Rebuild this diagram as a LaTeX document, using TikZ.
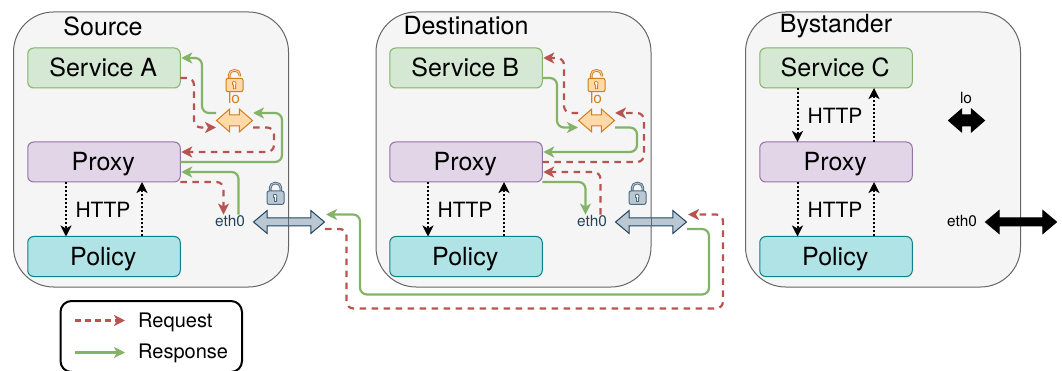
\documentclass[tikz,border=0pt]{standalone}
\usepackage{fontspec}
\setmainfont{TeX Gyre Heros}
\usetikzlibrary{arrows.meta,calc,shapes.arrows}
\definecolor{hostfill}{HTML}{F5F5F5}
\definecolor{hostline}{HTML}{666666}
\definecolor{svcfill}{HTML}{D5E8D4}
\definecolor{svcline}{HTML}{82B366}
\definecolor{prxfill}{HTML}{E1D5E7}
\definecolor{prxline}{HTML}{9673A6}
\definecolor{polfill}{HTML}{B0E3E6}
\definecolor{polline}{HTML}{0E8088}
\definecolor{reqcol}{HTML}{B85450}
\definecolor{respcol}{HTML}{82B366}
\definecolor{lofill}{HTML}{FFD9A8}
\definecolor{loline}{HTML}{D08020}
\definecolor{ethfill}{HTML}{BAC8D3}
\definecolor{ethline}{HTML}{23445D}
\definecolor{ethsoft}{HTML}{4F6B82}
\tikzset{
  x=1pt,y=-1pt,
  host/.style={draw=hostline,fill=hostfill,line width=1pt,rounded corners=40pt},
  compbox/.style={rounded corners=6pt,line width=1pt,minimum width=152.5pt,minimum height=40pt,inner sep=0pt,outer sep=0pt,text height=20pt,text depth=2.6pt,font=\fontsize{25}{30}\selectfont,execute at begin node=\hspace*{-1.5pt}},
  svcbox/.style={compbox,draw=svcline,fill=svcfill},
  prxbox/.style={compbox,draw=prxline,fill=prxfill},
  polbox/.style={compbox,draw=polline,fill=polfill},
  title/.style={font=\fontsize{25}{30}\selectfont,inner sep=0pt},
  httplabel/.style={font=\fontsize{21}{25}\selectfont,inner sep=0pt},
  smalllabel/.style={font=\fontsize{15.4}{18}\selectfont,inner sep=0pt},
  leglabel/.style={font=\fontsize{20}{24}\selectfont,inner sep=0pt,anchor=west},
  req/.style={draw=reqcol,line width=2.2pt,dash pattern=on 6.5pt off 5.5pt,rounded corners=7pt,-{Stealth[length=11pt,width=11pt,inset=3pt]},reqcol},
  resp/.style={draw=respcol,line width=2.2pt,rounded corners=7pt,-{Stealth[length=11pt,width=11pt,inset=3pt]},respcol},
  dotline/.style={draw=black,line width=2pt,dash pattern=on 2pt off 2pt,-{Stealth[length=11pt,width=11pt,inset=3pt]},black},
  lolink/.style={double arrow,line width=1pt,minimum height=36pt,minimum width=22pt,inner sep=5pt,text width=0pt,text height=0pt,text depth=0pt,double arrow head extend=6pt,double arrow tip angle=82,outer sep=0pt},
  ethlink/.style={double arrow,line width=1pt,minimum height=71pt,minimum width=22pt,inner sep=3.5pt,text width=0pt,text height=0pt,text depth=0pt,double arrow head extend=7.5pt,double arrow tip angle=80,outer sep=0pt},
  pics/padlock/.style n args={3}{code={
    \draw[#1,line width=2.6pt,line cap=butt] (3.2,10) -- (3.2,5.5) arc[start angle=180,end angle=0,x radius=5.3pt,y radius=4.5pt] -- (13.8,#3);
    \draw[#2,line width=.8pt] (3.2,10) -- (3.2,5.5) arc[start angle=180,end angle=0,x radius=5.3pt,y radius=4.5pt] -- (13.8,#3);
    \draw[#1,line width=1pt,fill=#2,rounded corners=2pt] (0,9) rectangle (17,22.4);
    \draw[#1,line width=.8pt,fill=white] (7.4,15.5) -- (7.4,19.5) -- (9.6,19.5) -- (9.6,15.5) arc[start angle=-40,end angle=220,radius=2pt] -- cycle;
  }}
}
\begin{document}
\begin{tikzpicture}
\useasboundingbox (0,0) rectangle (1062,371);
% hosts
\draw[host] (13.5,12) rectangle (288.5,287);
\draw[host] (376,12) rectangle (651,287);
\draw[host] (745.5,12) rectangle (1020.5,287);
\node[title] (tsrc) at (103,26) {Source};
\node[title] (tdst) at (466,26) {Destination};
\node[title] (tbys) at (836,26) {Bystander};
% boxes
\node[svcbox] (svcA) at (104,68) {Service A};
\node[prxbox] (prxA) at (104,162) {Proxy};
\node[polbox] (polA) at (104,256.5) {Policy};
\node[svcbox] (svcB) at (466,68) {Service B};
\node[prxbox] (prxB) at (466,162) {Proxy};
\node[polbox] (polB) at (466,256.5) {Policy};
\node[svcbox] (svcC) at (836,68) {Service C};
\node[prxbox] (prxC) at (836,162) {Proxy};
\node[polbox] (polC) at (836,256.5) {Policy};
% interfaces
\node[lolink,draw=loline,fill=lofill] (loA) at (234.5,120.5) {};
\node[lolink,draw=loline,fill=lofill] (loB) at (596.5,120.5) {};
\node[lolink,draw=black,fill=black] (loC) at (966.5,120.5) {};
\node[ethlink,draw=ethline,fill=ethfill] (ethA) at (289,222) {};
\node[ethlink,draw=ethline,fill=ethfill] (ethB) at (651,222) {};
\node[ethlink,draw=black,fill=black] (ethC) at (1021,222) {};
\draw[hostline,line width=1pt] (288.5,218) -- (288.5,226);
\draw[hostline,line width=1pt] (651,218) -- (651,226);
\node[smalllabel,text=loline] (lblA) at (234,98) {lo};
\node[smalllabel,text=loline] (lblB) at (596,98) {lo};
\node[smalllabel] (lblC) at (966,98) {lo};
\node[smalllabel,text=ethline] (etA) at (230,221.5) {eth0};
\node[smalllabel,text=ethline] (etB) at (592,221.5) {eth0};
\node[smalllabel] (etC) at (962,221.5) {eth0};
% locks
\pic at (226,69.3) {padlock={loline}{lofill}{7}};
\pic at (588,69.3) {padlock={loline}{lofill}{7}};
\pic at (267,182) {padlock={ethsoft}{ethfill}{10}};
\pic at (629,182) {padlock={ethsoft}{ethfill}{10}};
% HTTP
\node[httplabel] (h1) at (103,210) {HTTP};
\node[httplabel] (h2) at (465,210) {HTTP};
\node[httplabel] (h3) at (835,116) {HTTP};
\node[httplabel] (h4) at (835,210) {HTTP};
\draw[dotline] ($(prxA.south)+(-38,0)$) -- ($(polA.north)+(-38,0)$);
\draw[dotline] ($(polA.north)+(38,0)$) -- ($(prxA.south)+(38,0)$);
\draw[dotline] ($(prxB.south)+(-38,0)$) -- ($(polB.north)+(-38,0)$);
\draw[dotline] ($(polB.north)+(38,0)$) -- ($(prxB.south)+(38,0)$);
\draw[dotline] ($(svcC.south)+(-38.5,0)$) -- ($(prxC.north)+(-38.5,0)$);
\draw[dotline] ($(prxC.north)+(38,0)$) -- ($(svcC.south)+(38,0)$);
\draw[dotline] ($(prxC.south)+(-38.5,0)$) -- ($(polC.north)+(-38.5,0)$);
\draw[dotline] ($(polC.north)+(38,0)$) -- ($(prxC.south)+(38,0)$);
% source flows
\coordinate (loAnw) at ($(loA.center)+(-18.5,-7.5)$);
\coordinate (loAsw) at ($(loA.center)+(-18.5,7)$);
\coordinate (loAne) at ($(loA.center)+(18.5,-7.5)$);
\coordinate (loAse) at ($(loA.center)+(18.5,7)$);
\draw[resp] (loAnw) -| (202,58) -- ($(svcA.east)+(1,-10)$);
\draw[req] ($(svcA.east)+(0,10)$) -| (194,127.5) -- (loAsw);
\draw[req] (loAse) -| (274,152) -- ($(prxA.east)+(1,-10)$);
\draw[resp] ($(prxA.east)+(0,0)$) -| (282,113) -- (loAne);
\draw[resp] ($(etA.north)+(8.5,-1)$) |- ($(prxA.east)+(1,10)$);
\draw[req] ($(prxA.south east)+(0,0)$) -| ($(etA.north)+(-6.5,-1)$);
% destination flows
\coordinate (loBnw) at ($(loB.center)+(-18.5,-7.5)$);
\coordinate (loBsw) at ($(loB.center)+(-18.5,7)$);
\coordinate (loBne) at ($(loB.center)+(18.5,-7.5)$);
\coordinate (loBse) at ($(loB.center)+(18.5,7)$);
\draw[req] (loBnw) -| (564,58) -- ($(svcB.east)+(1,-10)$);
\draw[resp] ($(svcB.east)+(0,10)$) -| (557,127.5) -- (loBsw);
\draw[resp] (loBse) -| (637,152) -- ($(prxB.east)+(1,-10)$);
\draw[req] ($(prxB.east)+(0,0)$) -| (644,113) -- (loBne);
\draw[req] ($(etB.north)+(8.5,-1)$) |- ($(prxB.east)+(1,10)$);
\draw[resp] ($(prxB.south east)+(0,0)$) -| ($(etB.north)+(-6.5,-1)$);
% between hosts
\coordinate (ethAne) at ($(ethA.center)+(37,-7.5)$);
\coordinate (ethAse) at ($(ethA.center)+(36,7)$);
\coordinate (ethBne) at ($(ethB.center)+(37,-7.5)$);
\coordinate (ethBse) at ($(ethB.center)+(36,7)$);
\draw[resp] (ethBse) -| (709,294.5) -| (360,214.5) -- (ethAne);
\draw[req] (ethAse) -| (346.5,308.5) -| (723,214.5) -- (ethBne);
% legend
\draw[line width=2pt,rounded corners=11pt] (60.5,301) rectangle (242,372);
\coordinate (la) at (75,320.5);
\coordinate (lb) at (125,320.5);
\coordinate (lc) at (75,352.5);
\coordinate (ld) at (125,352.5);
\draw[req,dash pattern=on 6pt off 4pt] (la) -- (lb);
\draw[resp] (lc) -- (ld);
\node[leglabel] (lreq) at (138,322) {Request};
\node[leglabel] (lresp) at (138,353.5) {Response};
\end{tikzpicture}
\end{document}
